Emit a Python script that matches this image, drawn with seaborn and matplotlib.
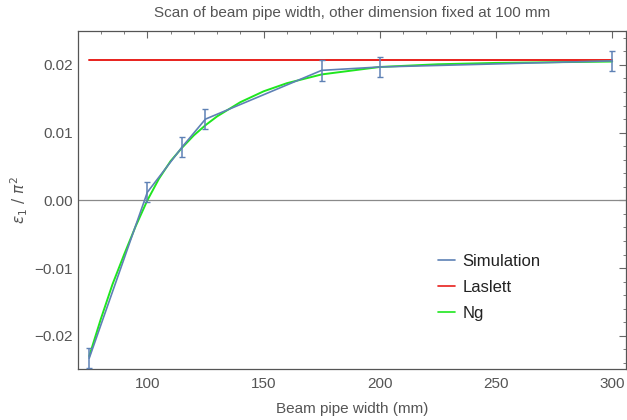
import numpy as np
import pandas as pd
import matplotlib
matplotlib.use("Agg")
import matplotlib.pyplot as plt
import seaborn as sns
from matplotlib.ticker import MultipleLocator

# ---- data ----
sim_width = [75, 100, 115, 125, 175, 200, 300]
sim_eps = [-0.0233, 0.0012, 0.0079, 0.0120, 0.0192, 0.0197, 0.0206]
sim_err = [0.0015, 0.0015, 0.0015, 0.0015, 0.0015, 0.0015, 0.0015]

laslett_width = [75, 300]
laslett_eps = [0.0208, 0.0208]

ng_width = [75, 80, 85, 90, 95, 100, 105, 110, 115, 120, 125, 130, 140,
            150, 160, 175, 200, 225, 250, 275, 300]
ng_eps = [-0.0230, -0.0175, -0.0124, -0.0080, -0.0038, 0.0000, 0.0032,
          0.0058, 0.0078, 0.0096, 0.0111, 0.0124, 0.0145, 0.0161, 0.0173,
          0.0186, 0.0197, 0.0201, 0.0203, 0.0204, 0.0205]

x_ticks = [100, 150, 200, 250, 300]
y_ticks = [-0.02, -0.01, 0.00, 0.01, 0.02]

title = "Scan of beam pipe width, other dimension fixed at 100 mm"
xlabel = "Beam pipe width (mm)"
ylabel = r"$\epsilon_1\ /\ \pi^2$"

# ---- style ----
sns.set_theme(style="white")
plt.rcParams["font.family"] = ["Liberation Sans", "DejaVu Sans"]
plt.rcParams["mathtext.fontset"] = "dejavusans"

TXT = "#555555"
BLUE = "#5e81b5"
RED = "#e8201c"
GREEN = "#1fe61f"

fig = plt.figure(figsize=(6.27, 4.20), dpi=100)
ax = fig.add_axes([0.1249, 0.1214, 0.873, 0.8046])

df_sim = pd.DataFrame({"w": sim_width, "e": sim_eps, "s": "Simulation"})
df_las = pd.DataFrame({"w": laslett_width, "e": laslett_eps, "s": "Laslett"})
df_ng = pd.DataFrame({"w": ng_width, "e": ng_eps, "s": "Ng"})

ax.axhline(0, color="#8a8a8a", lw=0.9, zorder=1)

sns.lineplot(data=df_sim, x="w", y="e", ax=ax, color=BLUE, lw=1.2,
             label="Simulation", errorbar=None, zorder=4)
ax.errorbar(sim_width, sim_eps, yerr=sim_err, fmt="none", ecolor=BLUE,
            elinewidth=1.1, capsize=2, capthick=1.0, zorder=4)
sns.lineplot(data=df_las, x="w", y="e", ax=ax, color=RED, lw=1.4,
             label="Laslett", errorbar=None, zorder=3)
sns.lineplot(data=df_ng, x="w", y="e", ax=ax, color=GREEN, lw=1.4,
             label="Ng", errorbar=None, zorder=3)

ax.set_xlim(70.3, 305.8)
ax.set_ylim(-0.0249, 0.0250)
ax.set_xticks(x_ticks)
ax.set_yticks(y_ticks)
ax.set_xticklabels([str(t) for t in x_ticks])
ax.set_yticklabels([f"{t:.2f}".replace("-", "\u2212") for t in y_ticks])
ax.xaxis.set_minor_locator(MultipleLocator(10))
ax.yaxis.set_minor_locator(MultipleLocator(0.002))

ax.tick_params(which="both", direction="in", top=True, right=True,
               colors="#666666", labelcolor=TXT, labelsize=11)
ax.tick_params(which="major", length=5, width=0.8)
ax.tick_params(which="minor", length=2.5, width=0.6)
ax.tick_params(axis="x", pad=6)
ax.tick_params(axis="y", pad=4)
for sp in ax.spines.values():
    sp.set_color("#555555")
    sp.set_linewidth(0.9)

ax.set_title(title, color=TXT, fontsize=11, pad=10)
ax.set_xlabel(xlabel, color=TXT, fontsize=11, labelpad=8)
ax.set_ylabel(ylabel, color=TXT, fontsize=11, labelpad=3)

leg = ax.legend(loc="upper left", bbox_to_anchor=(0.63, 0.385), frameon=False,
                fontsize=12, handlelength=1.0, handletextpad=0.45,
                labelspacing=0.65, labelcolor="#222222")
for h in leg.get_lines():
    h.set_linewidth(1.2)

fig.savefig("out.png", dpi=100)
